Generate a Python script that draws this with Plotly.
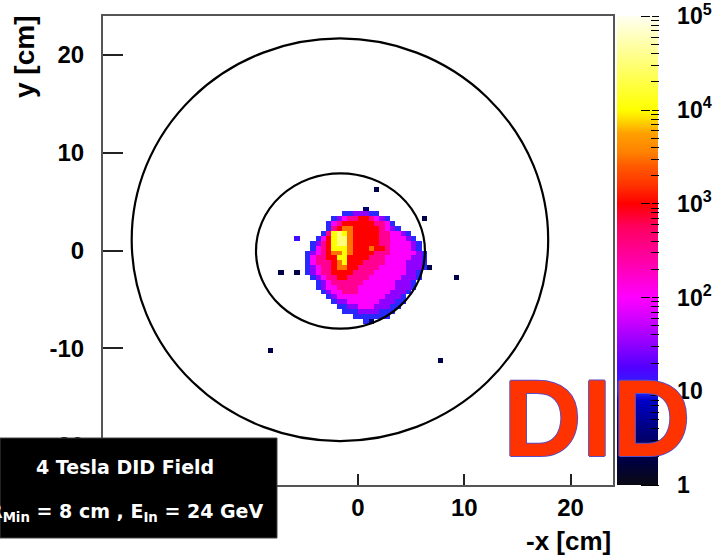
import numpy as np
import plotly.graph_objects as go

# ---------------- data ----------------
bin_size = 0.5
axis_min, axis_max = -24.0, 24.0
blob_left = -5.0    # left edge of first column of blob_rows (cm)
blob_top = 4.5      # top edge of first row of blob_rows (cm)
# level code d -> entries = 10**(d/2); '.' = empty bin
blob_rows = [
    "...........1............",
    ".......2233322..........",
    ".....23455665432........",
    "....2456666665542.......",
    "....25677666665432......",
    "...25898766666554432....",
    "..2468997666665544432...",
    ".235689976666655444432..",
    ".245688876667665444432..",
    "23456778766665554444432.",
    "24556688666655544444332.",
    "24555678666555544443332.",
    "23455677665555444443332.",
    "2345566665555444444332..",
    ".234556655554444443332..",
    "..2345555554444443332...",
    "..2344555544444443332...",
    "...23445554444443332....",
    "....234444444443332.....",
    ".....23344444433322.....",
    "......223344433322......",
    ".......2223333222.......",
    ".........2222222........",
    "...........21...........",
]
iso_x = [-8.25, 7.75, 9.25, 6.75, 6.25, 1.75, -5.75, -7.25, -5.75]
iso_y = [-10.25, -11.25, -2.75, -1.75, 3.25, 6.25, 1.25, -2.25, -2.25]
iso_counts = [2, 2, 2, 2, 2, 2, 15, 2, 2]

# circles (cm): centre x, centre y, radius x, radius y
circle_cx = [-1.7, -1.65]
circle_cy = [1.1, -0.05]
circle_rx = [19.6, 7.95]
circle_ry = [20.6, 7.95]

x_ticks = [-20, -10, 0, 10, 20]
x_labels = ["-20", "-10", "0", "10", "20"]
y_ticks = [-20, -10, 0, 10, 20]
y_labels = ["-20", "-10", "0", "10", "20"]
cb_major = [1, 10, 100, 1000, 10000, 100000]
cb_labels = ["1", "10", "10<sup>2</sup>", "10<sup>3</sup>", "10<sup>4</sup>", "10<sup>5</sup>"]

# ---------------- build histogram ----------------
n = int(round((axis_max - axis_min) / bin_size))
centers = axis_min + bin_size * (np.arange(n) + 0.5)
z = np.full((n, n), np.nan)

def idx(v):
    return int(round((v - axis_min) / bin_size - 0.5))

for r, row in enumerate(blob_rows):
    yc = blob_top - bin_size * (r + 0.5)
    for c, ch in enumerate(row):
        if ch == ".":
            continue
        xc = blob_left + bin_size * (c + 0.5)
        z[idx(yc), idx(xc)] = int(ch) / 2.0

for xv, yv, cnt in zip(iso_x, iso_y, iso_counts):
    z[idx(yv), idx(xv)] = np.log10(cnt)

colorscale = [
    [0.00, "#0a0a14"], [0.05, "#000040"], [0.12, "#000080"], [0.18, "#0000c8"],
    [0.20, "#2828ff"], [0.25, "#5000ff"], [0.30, "#9000ff"], [0.35, "#cc00ff"],
    [0.40, "#ff00ff"], [0.47, "#ff00b0"], [0.55, "#ff0060"], [0.60, "#ff0000"],
    [0.64, "#ff3300"], [0.68, "#ff5a00"], [0.71, "#ff8200"], [0.75, "#ffa000"],
    [0.78, "#ffdd00"], [0.80, "#ffff00"], [0.90, "#ffff78"], [1.00, "#fffff2"],
]
z_lo = np.log10(cb_major[0])
z_hi = np.log10(cb_major[-1]) + 0.004   # tiny headroom so the 10^5 label is kept

W, H = 715, 556
L, R, T, B = 103, 102, 16, 71
pw, ph = W - L - R, H - T - B

def px_x(p):
    return (p - L) / pw

def px_y(p):
    return (H - B - p) / ph

tick_font = dict(family="Liberation Sans, Arial, sans-serif", size=24, color="black", weight="bold")
cb_font = dict(family="Liberation Sans, Arial, sans-serif", size=23, color="black", weight="bold")

fig = go.Figure()
# main histogram with the colour bar and its labels
fig.add_trace(go.Heatmap(
    x=centers, y=centers, z=z, zmin=z_lo, zmax=z_hi, colorscale=colorscale,
    hoverinfo="skip",
    colorbar=dict(
        thickness=41, thicknessmode="pixels", len=1, lenmode="fraction",
        x=px_x(617), xanchor="left", xpad=0, y=0.5, yanchor="middle", ypad=0,
        outlinewidth=0, ticks="outside", ticklen=15, tickcolor="rgba(0,0,0,0)",
        tickmode="array", tickvals=[np.log10(v) for v in cb_major],
        ticktext=cb_labels, tickfont=cb_font, ticklabeloverflow="allow",
    ),
))

# invisible copies whose thin colour bars carry only the tick marks over the bar
major_vals = [np.log10(v) for v in cb_major]
minor_vals = [np.log10(k * 10 ** d) for d in range(5) for k in range(2, 10)]
for bar_px, tlen, tv in [(640, 18, major_vals), (650, 8, minor_vals)]:
    fig.add_trace(go.Heatmap(
        x=centers, y=centers, z=z, zmin=z_lo, zmax=z_hi, colorscale=colorscale,
        opacity=0, hoverinfo="skip", showscale=True,
        colorbar=dict(
            thickness=1, thicknessmode="pixels", len=1, lenmode="fraction",
            x=px_x(bar_px), xanchor="left", xpad=0, y=0.5, yanchor="middle", ypad=0,
            outlinewidth=0, ticks="outside", ticklen=tlen, tickwidth=1.2, tickcolor="black",
            tickmode="array", tickvals=tv, showticklabels=False,
        ),
    ))

shapes = []
for cx, cy, rx, ry in zip(circle_cx, circle_cy, circle_rx, circle_ry):
    shapes.append(dict(type="circle", xref="x", yref="y", x0=cx - rx, x1=cx + rx,
                       y0=cy - ry, y1=cy + ry, line=dict(color="black", width=2.2),
                       layer="above"))
# black label box (bottom left)
shapes.append(dict(type="rect", xref="paper", yref="paper", x0=px_x(0), x1=px_x(277),
                   y0=px_y(538), y1=px_y(438), fillcolor="black",
                   line=dict(color="#444", width=1), layer="above"))

box_font = dict(family="DejaVu Sans, sans-serif", size=19, color="white", weight="bold")
title_font = dict(family="Liberation Sans, Arial, sans-serif", size=26, color="black", weight="bold")
annotations = [
    dict(text="4 Tesla DID Field", x=px_x(124.5), y=px_y(467), xref="paper", yref="paper",
         xanchor="center", yanchor="middle", showarrow=False, font=box_font),
    dict(text="R<sub>Min</sub> = 8 cm , E<sub>In</sub> = 24 GeV", x=px_x(265), y=px_y(512),
         xref="paper", yref="paper", xanchor="right", yanchor="middle", showarrow=False,
         font=box_font),
    dict(text="y [cm]", x=px_x(25), y=px_y(57), xref="paper", yref="paper", textangle=-90,
         xanchor="center", yanchor="middle", showarrow=False,
         font=dict(title_font, size=28)),
    dict(text="-x [cm]", x=px_x(568), y=px_y(541), xref="paper", yref="paper",
         xanchor="center", yanchor="middle", showarrow=False, font=title_font),
    dict(text="DID", x=px_x(596.5), y=px_y(417.5), xref="paper", yref="paper",
         xanchor="center", yanchor="middle", showarrow=False,
         font=dict(family="Liberation Sans, Arial, sans-serif", size=109, color="#ff3300",
                   weight="bold",
                   shadow="-1px 0 0 #5a4fc8, 1px 0 0 #5a4fc8, 0 -1px 0 #5a4fc8, 0 1px 0 #5a4fc8")),
]

axis_common = dict(showgrid=False, zeroline=False, showline=True, mirror=True,
                   linecolor="#555", linewidth=2, ticks="inside", tickcolor="#222",
                   tickwidth=1.5, tickfont=tick_font, tickmode="array")

fig.update_layout(
    width=W, height=H, margin=dict(l=L, r=R, t=T, b=B, autoexpand=False),
    paper_bgcolor="white", plot_bgcolor="white", showlegend=False,
    xaxis=dict(range=[axis_min, axis_max], tickvals=x_ticks, ticktext=x_labels, ticklen=11,
               ticklabelstandoff=0, **axis_common),
    yaxis=dict(range=[axis_min, axis_max], tickvals=y_ticks, ticktext=y_labels, ticklen=20,
               ticklabelstandoff=12, **axis_common),
    shapes=shapes, annotations=annotations,
)

fig.write_html("out.html", config={"displayModeBar": False},
               post_script="document.body.style.margin='0px';")
